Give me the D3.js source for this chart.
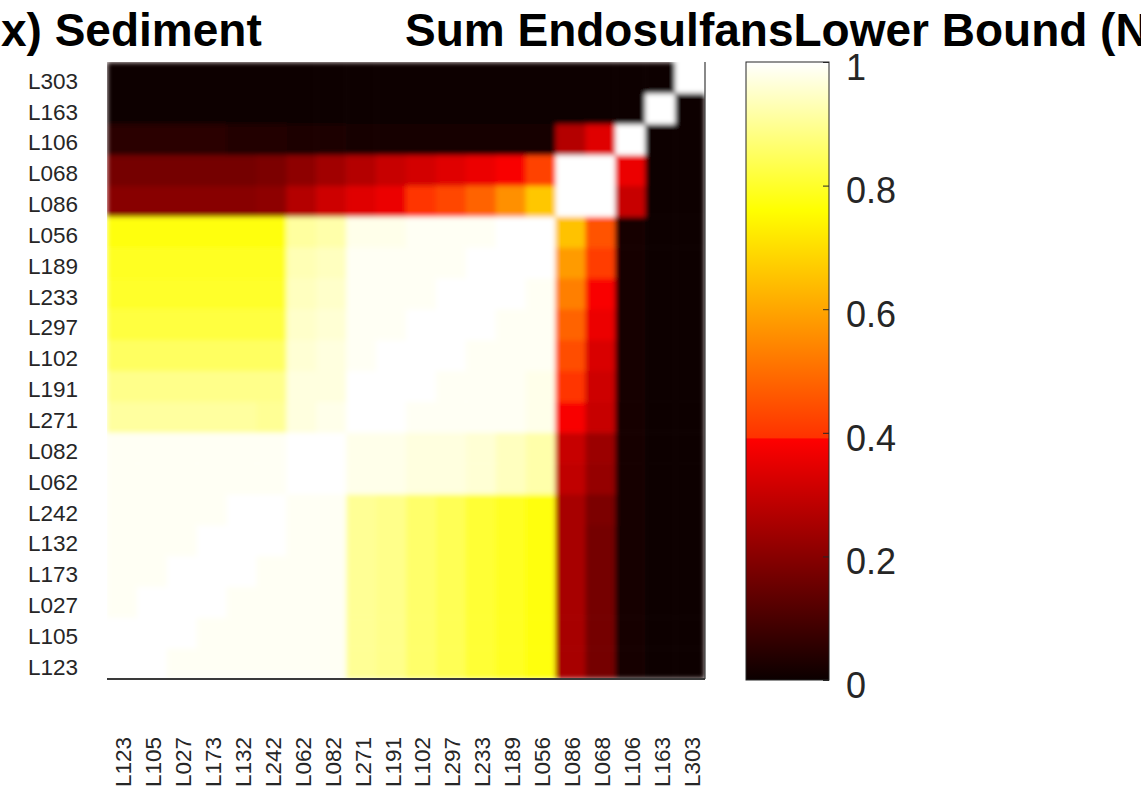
<!DOCTYPE html>
<html>
<head>
<meta charset="utf-8">
<script src="https://cdn.jsdelivr.net/npm/d3@7"></script>
<style>
  html, body { margin: 0; padding: 0; background: #fff; }
  svg { display: block; }
  text { font-family: "Liberation Sans", Arial, Helvetica, sans-serif; }
</style>
</head>
<body>
<svg id="chart" width="1141" height="802"></svg>
<script>
// ---- data ----
const titleLeft = "x) Sediment";
const titleRight = "Sum EndosulfansLower Bound (N";

// column order (left to right); rows are drawn in reverse order (top = L303)
const sites = ["L123","L105","L027","L173","L132","L242","L062","L082","L271","L191",
               "L102","L297","L233","L189","L056","L086","L068","L106","L163","L303"];

// similarity matrix: matrix[i][j] = value for row sites[i], column sites[j]
const matrix = [
/*L123*/ [1.00,1.00,0.99,0.99,0.99,0.99,0.99,0.99,0.90,0.89,0.86,0.84,0.81,0.79,0.77,0.25,0.17,0.02,0.01,0.01],
/*L105*/ [1.00,1.00,1.00,0.99,0.99,0.99,0.99,0.99,0.90,0.89,0.86,0.84,0.81,0.79,0.77,0.25,0.17,0.02,0.01,0.01],
/*L027*/ [0.99,1.00,1.00,1.00,0.99,0.99,0.99,0.99,0.90,0.89,0.86,0.84,0.81,0.79,0.77,0.25,0.17,0.02,0.01,0.01],
/*L173*/ [0.99,0.99,1.00,1.00,1.00,0.99,0.99,0.99,0.90,0.89,0.86,0.84,0.81,0.79,0.77,0.25,0.17,0.02,0.01,0.01],
/*L132*/ [0.99,0.99,0.99,1.00,1.00,1.00,0.99,0.99,0.90,0.89,0.86,0.84,0.81,0.79,0.77,0.25,0.17,0.02,0.01,0.01],
/*L242*/ [0.99,0.99,0.99,0.99,1.00,1.00,0.99,0.99,0.90,0.89,0.86,0.84,0.81,0.79,0.77,0.25,0.18,0.02,0.01,0.01],
/*L062*/ [0.99,0.99,0.99,0.99,0.99,0.99,1.00,1.00,0.98,0.98,0.97,0.97,0.96,0.94,0.92,0.29,0.22,0.02,0.01,0.01],
/*L082*/ [0.99,0.99,0.99,0.99,0.99,0.99,1.00,1.00,0.98,0.98,0.97,0.97,0.96,0.94,0.92,0.30,0.23,0.02,0.01,0.01],
/*L271*/ [0.91,0.91,0.91,0.91,0.91,0.90,0.97,0.98,1.00,1.00,0.99,0.99,0.99,0.99,0.98,0.38,0.30,0.02,0.01,0.01],
/*L191*/ [0.89,0.89,0.89,0.89,0.89,0.89,0.97,0.97,1.00,1.00,1.00,0.99,0.99,0.99,0.98,0.40,0.31,0.02,0.01,0.01],
/*L102*/ [0.85,0.85,0.85,0.85,0.85,0.85,0.96,0.97,0.99,1.00,1.00,1.00,0.99,0.99,0.99,0.44,0.33,0.02,0.01,0.01],
/*L297*/ [0.82,0.82,0.82,0.82,0.82,0.82,0.95,0.96,0.99,0.99,1.00,1.00,1.00,0.99,0.99,0.48,0.36,0.02,0.01,0.01],
/*L233*/ [0.80,0.80,0.80,0.80,0.80,0.80,0.94,0.95,0.99,0.99,0.99,1.00,1.00,1.00,0.99,0.53,0.38,0.02,0.01,0.01],
/*L189*/ [0.79,0.79,0.79,0.79,0.79,0.79,0.93,0.94,0.99,0.99,0.99,0.99,1.00,1.00,1.00,0.58,0.41,0.02,0.01,0.01],
/*L056*/ [0.77,0.77,0.77,0.77,0.77,0.77,0.91,0.92,0.98,0.98,0.99,0.99,0.99,1.00,1.00,0.65,0.45,0.02,0.01,0.01],
/*L086*/ [0.20,0.20,0.20,0.20,0.20,0.21,0.27,0.31,0.34,0.36,0.40,0.43,0.48,0.56,0.66,1.00,1.00,0.30,0.01,0.01],
/*L068*/ [0.17,0.17,0.17,0.17,0.17,0.18,0.21,0.24,0.27,0.30,0.32,0.34,0.36,0.38,0.42,1.00,1.00,0.36,0.01,0.01],
/*L106*/ [0.05,0.05,0.05,0.05,0.04,0.04,0.03,0.03,0.02,0.02,0.02,0.02,0.02,0.02,0.02,0.27,0.34,1.00,0.01,0.01],
/*L163*/ [0.01,0.01,0.01,0.01,0.01,0.01,0.01,0.01,0.01,0.01,0.01,0.01,0.01,0.01,0.01,0.01,0.01,0.01,1.00,0.01],
/*L303*/ [0.01,0.01,0.01,0.01,0.01,0.01,0.01,0.01,0.01,0.01,0.01,0.01,0.01,0.01,0.01,0.01,0.01,0.01,0.01,1.00]
];

const colorbarTicks = [0, 0.2, 0.4, 0.6, 0.8, 1];
const colorStops = [0, 0.39, 0.392, 0.76, 1];
const colorRange = ["#0b0000", "#ff0000", "#ff3200", "#ffff00", "#ffffff"];

// ---- drawing ----
const svg = d3.select("#chart");
svg.append("rect").attr("width", 1141).attr("height", 802).attr("fill", "#fff");

const plot = { left: 107, right: 705, top: 62, bottom: 679 };
const x = d3.scaleBand().domain(sites).range([plot.left, plot.right]);
const y = d3.scaleBand().domain(sites.slice().reverse()).range([plot.top, plot.bottom]);
const color = d3.scaleLinear().domain(colorStops).range(colorRange).clamp(true);

const defs = svg.append("defs");
const blur = defs.append("filter").attr("id", "soft")
  .attr("filterUnits", "objectBoundingBox")
  .attr("x", 0).attr("y", 0).attr("width", 1).attr("height", 1);
blur.append("feGaussianBlur").attr("stdDeviation", 2.5).attr("edgeMode", "duplicate");

const cells = [];
sites.forEach((rs, i) => sites.forEach((cs, j) => cells.push({ row: rs, col: cs, v: matrix[i][j] })));

svg.append("g").attr("filter", "url(#soft)")
  .selectAll("rect").data(cells).join("rect")
  .attr("x", d => x(d.col))
  .attr("y", d => y(d.row))
  .attr("width", d => x(d.col) + x.bandwidth() >= plot.right - 0.5 ? x.bandwidth() : x.bandwidth() + 0.6)
  .attr("height", d => y(d.row) + y.bandwidth() >= plot.bottom - 0.5 ? y.bandwidth() : y.bandwidth() + 0.6)
  .attr("fill", d => color(d.v));

// axes lines (bottom & right)
svg.append("line").attr("x1", plot.left).attr("x2", plot.right).attr("y1", plot.bottom).attr("y2", plot.bottom)
  .attr("stroke", "#3a3a3a").attr("stroke-width", 2);
svg.append("line").attr("x1", plot.right).attr("x2", plot.right).attr("y1", plot.top).attr("y2", plot.bottom)
  .attr("stroke", "#3a3a3a").attr("stroke-width", 1.2);

// left axis labels
const yAxis = svg.append("g").attr("transform", `translate(${plot.left},0)`)
  .call(d3.axisLeft(y).tickSize(0).tickPadding(29));
yAxis.select(".domain").remove();
yAxis.selectAll("text").attr("font-size", 22.5).attr("fill", "#262626")
  .attr("font-family", "'Liberation Sans', Arial, sans-serif").attr("dy", "0.5em");

// bottom axis labels (rotated)
const xAxis = svg.append("g").attr("transform", `translate(0,${plot.bottom})`)
  .call(d3.axisBottom(x).tickSize(0));
xAxis.select(".domain").remove();
xAxis.selectAll("text")
  .attr("font-size", 22.5).attr("fill", "#262626")
  .attr("font-family", "'Liberation Sans', Arial, sans-serif")
  .attr("transform", "rotate(-90)")
  .attr("x", -58).attr("y", 0).attr("dy", "0.42em")
  .attr("text-anchor", "end");

// colorbar (gradient built from the colour scale)
const cb = { left: 746, right: 829, top: 62, bottom: 680 };
const cbScale = d3.scaleLinear().domain([0, 1]).range([cb.bottom, cb.top]);
const grad = defs.append("linearGradient").attr("id", "cbgrad")
  .attr("x1", 0).attr("y1", 1).attr("x2", 0).attr("y2", 0);
grad.selectAll("stop").data(colorStops).join("stop")
  .attr("offset", d => d)
  .attr("stop-color", d => color(d));
svg.append("rect").attr("x", cb.left).attr("y", cb.top)
  .attr("width", cb.right - cb.left).attr("height", cb.bottom - cb.top)
  .attr("fill", "url(#cbgrad)").attr("stroke", "#262626").attr("stroke-width", 1);

const cbAxis = svg.append("g").attr("transform", `translate(${cb.right},0)`)
  .call(d3.axisRight(cbScale).tickValues(colorbarTicks).tickFormat(d3.format("~g"))
    .tickSizeInner(-6).tickSizeOuter(0).tickPadding(17));
cbAxis.select(".domain").remove();
cbAxis.selectAll("line").attr("stroke", "#262626");
cbAxis.selectAll("text").attr("font-size", 36).attr("fill", "#262626")
  .attr("font-family", "'Liberation Sans', Arial, sans-serif").attr("dy", "0.48em");

// title
svg.append("text").attr("x", 1).attr("y", 46)
  .attr("font-size", 46).attr("font-weight", "bold").attr("fill", "#000")
  .text(titleLeft);
svg.append("text").attr("x", 405).attr("y", 46)
  .attr("font-size", 46).attr("font-weight", "bold").attr("fill", "#000")
  .text(titleRight);
</script>
</body>
</html>
